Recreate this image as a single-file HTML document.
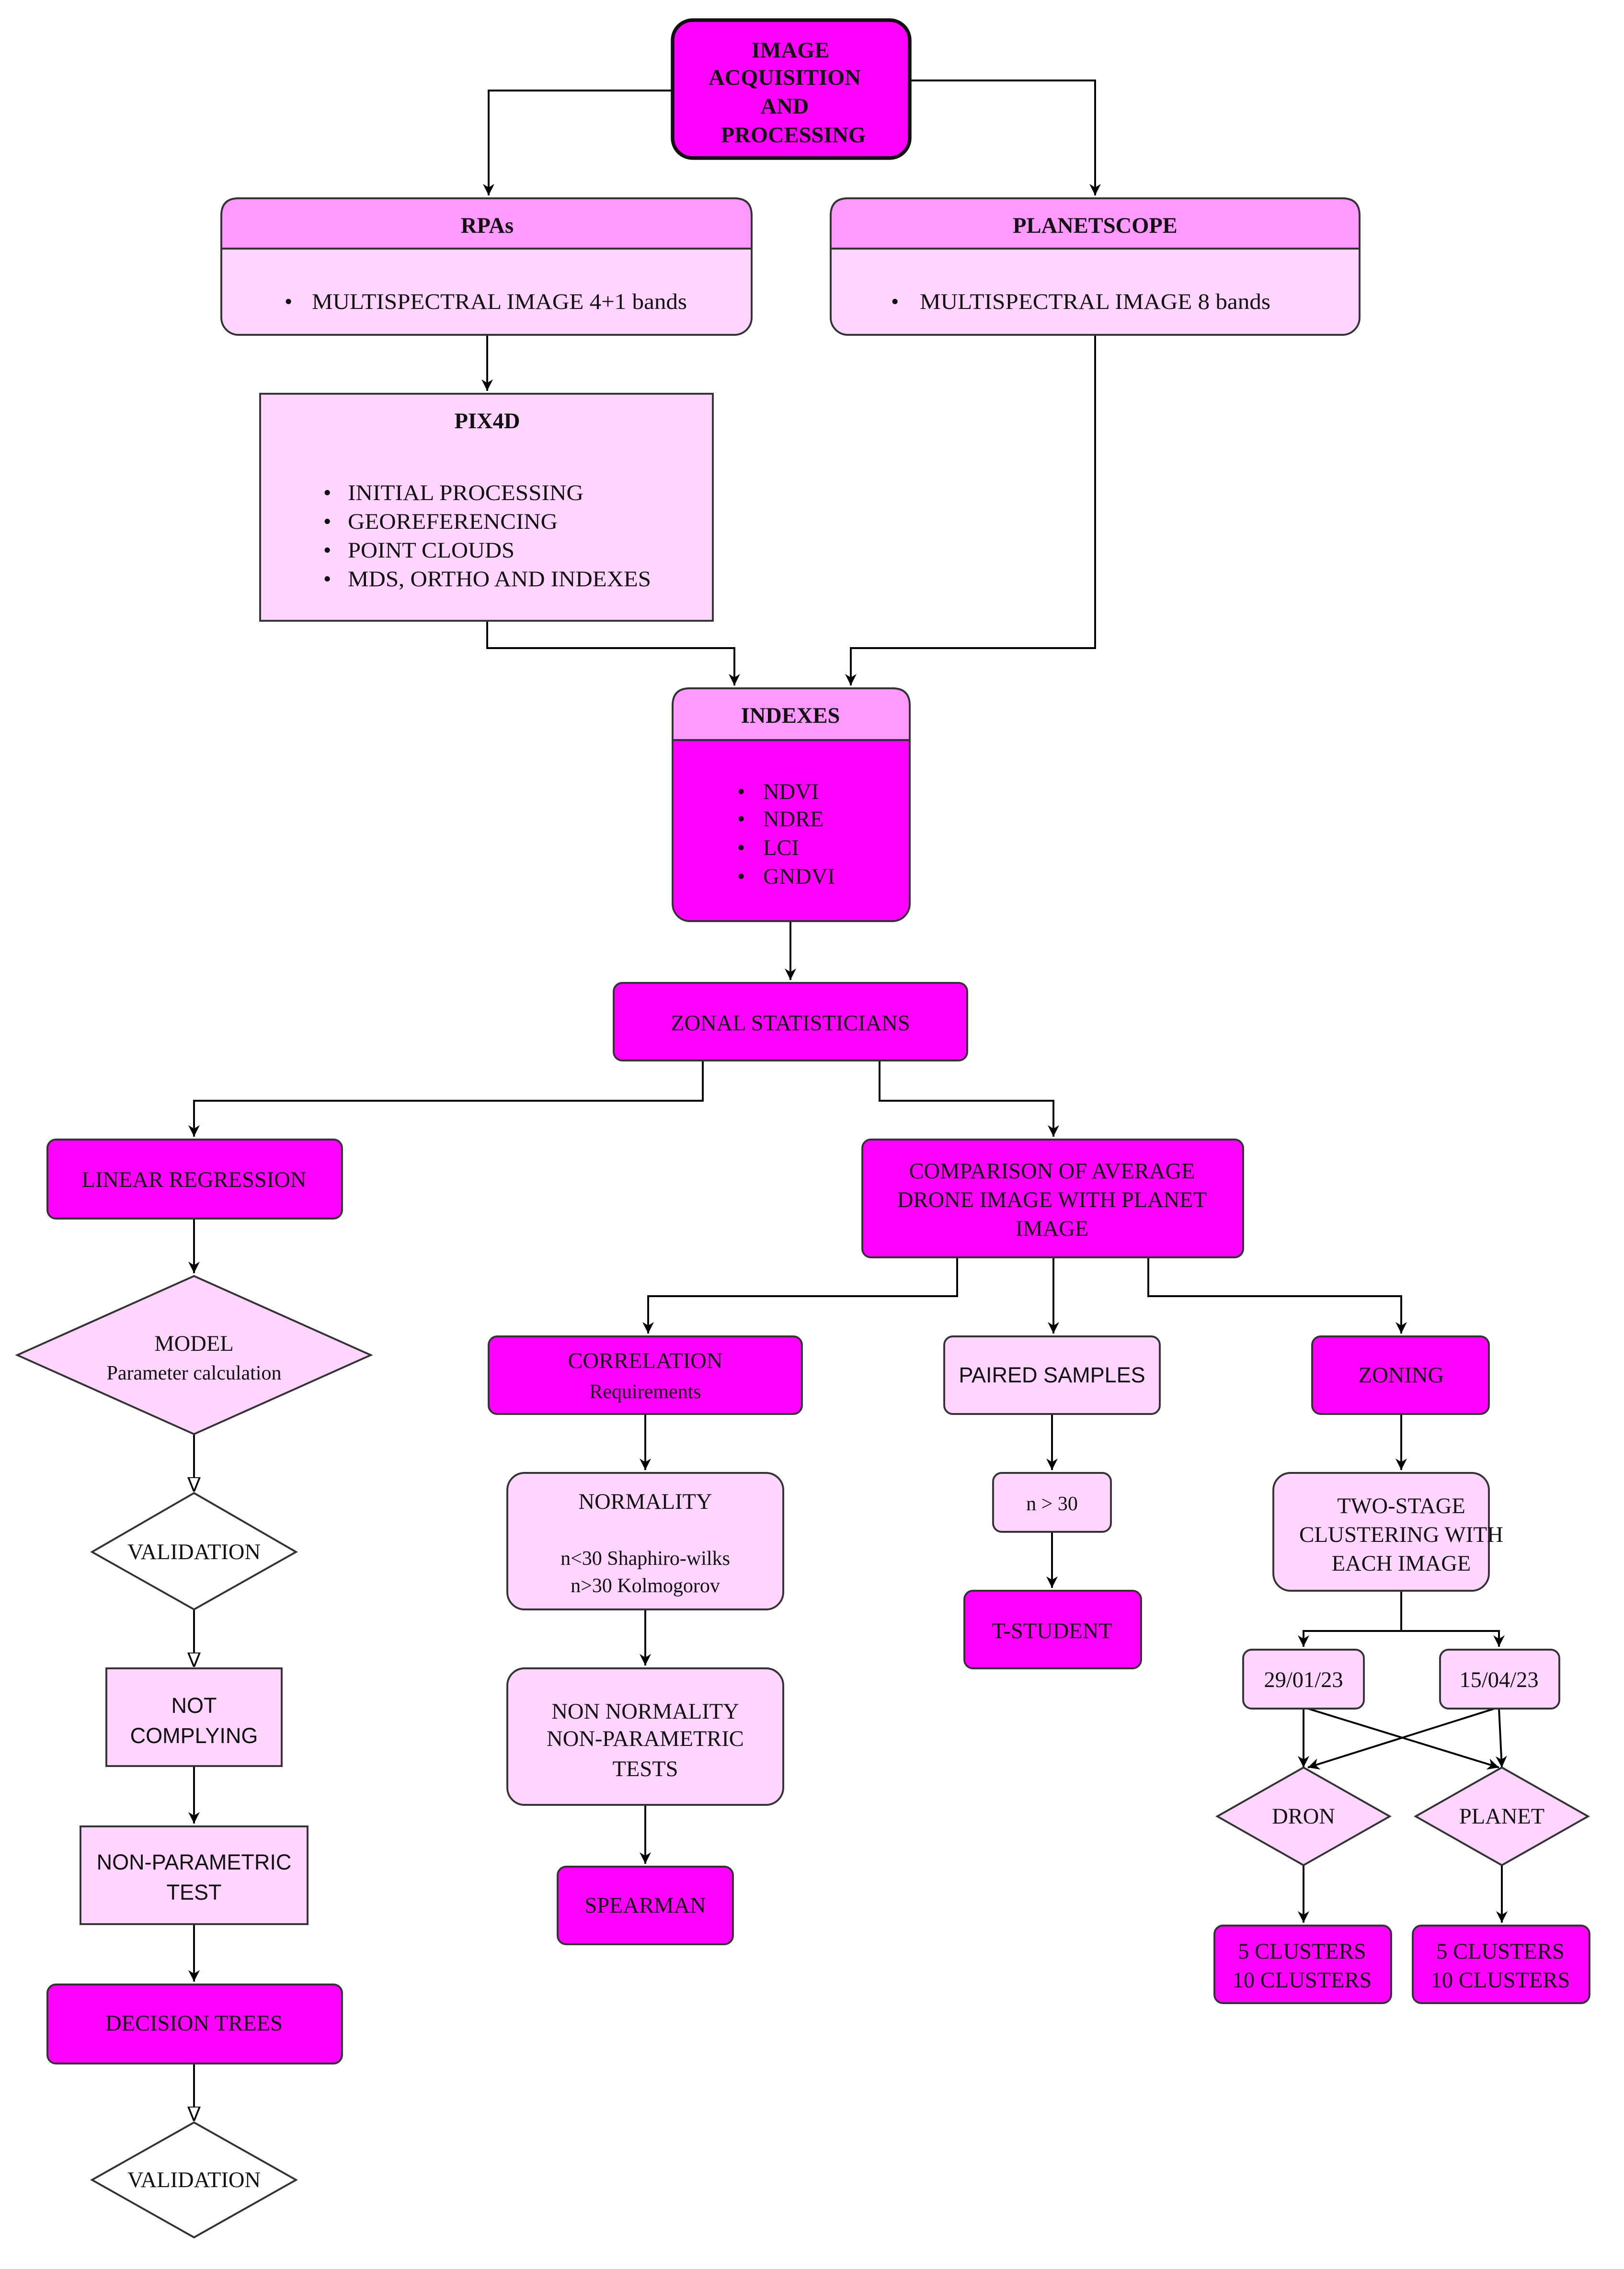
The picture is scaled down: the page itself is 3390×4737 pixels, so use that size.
<!DOCTYPE html>
<html><head><meta charset="utf-8"><style>html,body{margin:0;padding:0;background:#fff}svg{display:block}</style></head>
<body>
<svg xmlns="http://www.w3.org/2000/svg" width="3390" height="4737" viewBox="0 0 1130 1579">
<defs>
<marker id="a" viewBox="0 0 10 10" refX="10" refY="5" markerWidth="8" markerHeight="8" orient="auto" markerUnits="userSpaceOnUse"><path d="M0,0 L10,5 L0,10 L3,5 z" fill="#000"/></marker>
<marker id="h" viewBox="0 0 10 10" refX="10" refY="5" markerWidth="10" markerHeight="10" orient="auto" markerUnits="userSpaceOnUse"><path d="M0,1 L10,5 L0,9 z" fill="#fff" stroke="#000" stroke-width="1.2"/></marker>
</defs>
<style>
.s{font-family:"Liberation Serif",serif;font-size:15.5px;fill:#111;text-anchor:middle}
.b{font-weight:bold}
.sm{font-size:14px}
.ss{font-family:"Liberation Sans",sans-serif;font-size:15px;fill:#111;text-anchor:middle}
.l{text-anchor:start}
.c{fill:none;stroke:#000;stroke-width:1.3}
.bx{stroke:#333;stroke-width:1.3}
</style>
<g class="c">
<path d="M468,63 H340 V136" marker-end="url(#a)"/>
<path d="M633,56 H762 V136" marker-end="url(#a)"/>
<path d="M339,233 V272" marker-end="url(#a)"/>
<path d="M339,432 V451 H511 V477" marker-end="url(#a)"/>
<path d="M762,233 V451 H592 V477" marker-end="url(#a)"/>
<path d="M550,641 V682" marker-end="url(#a)"/>
<path d="M489,738 V766 H135 V791" marker-end="url(#a)"/>
<path d="M612,738 V766 H733 V791" marker-end="url(#a)"/>
<path d="M135,848 V886" marker-end="url(#a)"/>
<path d="M135,998 V1038" marker-end="url(#h)"/>
<path d="M135,1120 V1160" marker-end="url(#h)"/>
<path d="M135,1229 V1269" marker-end="url(#a)"/>
<path d="M135,1339 V1379" marker-end="url(#a)"/>
<path d="M135,1436 V1476" marker-end="url(#h)"/>
<path d="M666,875 V902 H451 V928" marker-end="url(#a)"/>
<path d="M733,875 V928" marker-end="url(#a)"/>
<path d="M799,875 V902 H975 V928" marker-end="url(#a)"/>
<path d="M449,984 V1023" marker-end="url(#a)"/>
<path d="M449,1120 V1159" marker-end="url(#a)"/>
<path d="M449,1256 V1297" marker-end="url(#a)"/>
<path d="M732,984 V1023" marker-end="url(#a)"/>
<path d="M732,1066 V1105" marker-end="url(#a)"/>
<path d="M975,984 V1023" marker-end="url(#a)"/>
<path d="M975,1107 V1135 H907 V1146" marker-end="url(#a)"/>
<path d="M975,1135 H1043 V1146" marker-end="url(#a)"/>
<path d="M907,1189 V1230" marker-end="url(#a)"/>
<path d="M1043,1189 L1045,1230" marker-end="url(#a)"/>
<path d="M910,1189 L1043,1230" marker-end="url(#a)"/>
<path d="M1040,1189 L910,1230" marker-end="url(#a)"/>
<path d="M907,1298 V1338" marker-end="url(#a)"/>
<path d="M1045,1298 V1338" marker-end="url(#a)"/>
</g>
<rect x="468" y="14" width="165" height="96" rx="14" fill="#ff00ff" stroke="#111" stroke-width="2.5"/>
<text class="s b" x="550" y="40">IMAGE</text>
<text class="s b" x="546" y="59">ACQUISITION</text>
<text class="s b" x="546" y="79">AND</text>
<text class="s b" x="552" y="99">PROCESSING</text>
<rect x="154" y="138" width="369" height="95" rx="12" fill="#ffd5ff" class="bx"/>
<path d="M154,173 V150 Q154,138 166,138 H511 Q523,138 523,150 V173 Z" fill="#ff99ff" class="bx"/>
<text class="s b" x="339" y="162">RPAs</text>
<text class="s l" x="198" y="215">•</text>
<text class="s l" x="217" y="215" textLength="261" lengthAdjust="spacingAndGlyphs">MULTISPECTRAL IMAGE 4+1 bands</text>
<rect x="578" y="138" width="368" height="95" rx="12" fill="#ffd5ff" class="bx"/>
<path d="M578,173 V150 Q578,138 590,138 H934 Q946,138 946,150 V173 Z" fill="#ff99ff" class="bx"/>
<text class="s b" x="762" y="162">PLANETSCOPE</text>
<text class="s l" x="620" y="215">•</text>
<text class="s l" x="640" y="215" textLength="244" lengthAdjust="spacingAndGlyphs">MULTISPECTRAL IMAGE 8 bands</text>
<rect x="181" y="274" width="315" height="158" fill="#ffd5ff" class="bx"/>
<text class="s b" x="339" y="298">PIX4D</text>
<g class="s l">
<text x="225" y="348">•</text><text x="242" y="348" textLength="164" lengthAdjust="spacingAndGlyphs">INITIAL PROCESSING</text>
<text x="225" y="368">•</text><text x="242" y="368" textLength="146" lengthAdjust="spacingAndGlyphs">GEOREFERENCING</text>
<text x="225" y="388">•</text><text x="242" y="388" textLength="116" lengthAdjust="spacingAndGlyphs">POINT CLOUDS</text>
<text x="225" y="408">•</text><text x="242" y="408" textLength="211" lengthAdjust="spacingAndGlyphs">MDS, ORTHO AND INDEXES</text>
</g>
<rect x="468" y="479" width="165" height="162" rx="12" fill="#ff00ff" class="bx"/>
<path d="M468,515 V491 Q468,479 480,479 H621 Q633,479 633,491 V515 Z" fill="#ff99ff" class="bx"/>
<text class="s b" x="550" y="503">INDEXES</text>
<g class="s l">
<text x="513" y="556">•</text><text x="531" y="556">NDVI</text>
<text x="513" y="575">•</text><text x="531" y="575">NDRE</text>
<text x="513" y="595">•</text><text x="531" y="595">LCI</text>
<text x="513" y="615">•</text><text x="531" y="615">GNDVI</text>
</g>
<rect x="427" y="684" width="246" height="54" rx="6" fill="#ff00ff" class="bx"/>
<text class="s" x="550" y="717">ZONAL STATISTICIANS</text>
<rect x="33" y="793" width="205" height="55" rx="6" fill="#ff00ff" class="bx"/>
<text class="s" x="135" y="826">LINEAR REGRESSION</text>
<polygon points="135,888 258,943 135,998 12,943" fill="#ffd5ff" class="bx"/>
<text class="s" x="135" y="940">MODEL</text>
<text class="s sm" x="135" y="960">Parameter calculation</text>
<polygon points="135,1039 206,1080 135,1120 64,1080" fill="#fff" class="bx"/>
<text class="s" x="135" y="1085">VALIDATION</text>
<rect x="74" y="1161" width="122" height="68" fill="#ffd5ff" class="bx"/>
<text class="ss" x="135" y="1192">NOT</text>
<text class="ss" x="135" y="1213">COMPLYING</text>
<rect x="56" y="1271" width="158" height="68" fill="#ffd5ff" class="bx"/>
<text class="ss" x="135" y="1301">NON-PARAMETRIC</text>
<text class="ss" x="135" y="1322">TEST</text>
<rect x="33" y="1381" width="205" height="55" rx="6" fill="#ff00ff" class="bx"/>
<text class="s" x="135" y="1413">DECISION TREES</text>
<polygon points="135,1477 206,1517 135,1557 64,1517" fill="#fff" class="bx"/>
<text class="s" x="135" y="1522">VALIDATION</text>
<rect x="600" y="793" width="265" height="82" rx="6" fill="#ff00ff" class="bx"/>
<text class="s" x="732" y="820">COMPARISON OF AVERAGE</text>
<text class="s" x="732" y="840">DRONE IMAGE WITH PLANET</text>
<text class="s" x="732" y="860">IMAGE</text>
<rect x="340" y="930" width="218" height="54" rx="6" fill="#ff00ff" class="bx"/>
<text class="s" x="449" y="952">CORRELATION</text>
<text class="s sm" x="449" y="973">Requirements</text>
<rect x="353" y="1025" width="192" height="95" rx="12" fill="#ffd5ff" class="bx"/>
<text class="s" x="449" y="1050">NORMALITY</text>
<text class="s sm" x="449" y="1089">n&lt;30 Shaphiro-wilks</text>
<text class="s sm" x="449" y="1108">n&gt;30 Kolmogorov</text>
<rect x="353" y="1161" width="192" height="95" rx="12" fill="#ffd5ff" class="bx"/>
<text class="s" x="449" y="1196">NON NORMALITY</text>
<text class="s" x="449" y="1215">NON-PARAMETRIC</text>
<text class="s" x="449" y="1236">TESTS</text>
<rect x="388" y="1299" width="122" height="54" rx="6" fill="#ff00ff" class="bx"/>
<text class="s" x="449" y="1331">SPEARMAN</text>
<rect x="657" y="930" width="150" height="54" rx="6" fill="#ffd5ff" class="bx"/>
<text class="ss" x="732" y="962">PAIRED SAMPLES</text>
<rect x="691" y="1025" width="82" height="41" rx="6" fill="#ffd5ff" class="bx"/>
<text class="s sm" x="732" y="1051">n &gt; 30</text>
<rect x="671" y="1107" width="123" height="54" rx="6" fill="#ff00ff" class="bx"/>
<text class="s" x="732" y="1140">T-STUDENT</text>
<rect x="913" y="930" width="123" height="54" rx="6" fill="#ff00ff" class="bx"/>
<text class="s" x="975" y="962">ZONING</text>
<rect x="886" y="1025" width="150" height="82" rx="12" fill="#ffd5ff" class="bx"/>
<text class="s" x="975" y="1053">TWO-STAGE</text>
<text class="s" x="904" y="1073" style="text-anchor:start" textLength="142" lengthAdjust="spacingAndGlyphs">CLUSTERING WITH</text>
<text class="s" x="975" y="1093">EACH IMAGE</text>
<rect x="865" y="1148" width="84" height="41" rx="6" fill="#ffd5ff" class="bx"/>
<text class="s" x="907" y="1174">29/01/23</text>
<rect x="1002" y="1148" width="83" height="41" rx="6" fill="#ffd5ff" class="bx"/>
<text class="s" x="1043" y="1174">15/04/23</text>
<polygon points="907,1230 967,1264 907,1298 847,1264" fill="#ffd5ff" class="bx"/>
<text class="s" x="907" y="1269">DRON</text>
<polygon points="1045,1230 1105,1264 1045,1298 985,1264" fill="#ffd5ff" class="bx"/>
<text class="s" x="1045" y="1269">PLANET</text>
<rect x="845" y="1340" width="123" height="54" rx="6" fill="#ff00ff" class="bx"/>
<text class="s" x="906" y="1363">5 CLUSTERS</text>
<text class="s" x="906" y="1383">10 CLUSTERS</text>
<rect x="983" y="1340" width="123" height="54" rx="6" fill="#ff00ff" class="bx"/>
<text class="s" x="1044" y="1363">5 CLUSTERS</text>
<text class="s" x="1044" y="1383">10 CLUSTERS</text>
</svg>
</body></html>
